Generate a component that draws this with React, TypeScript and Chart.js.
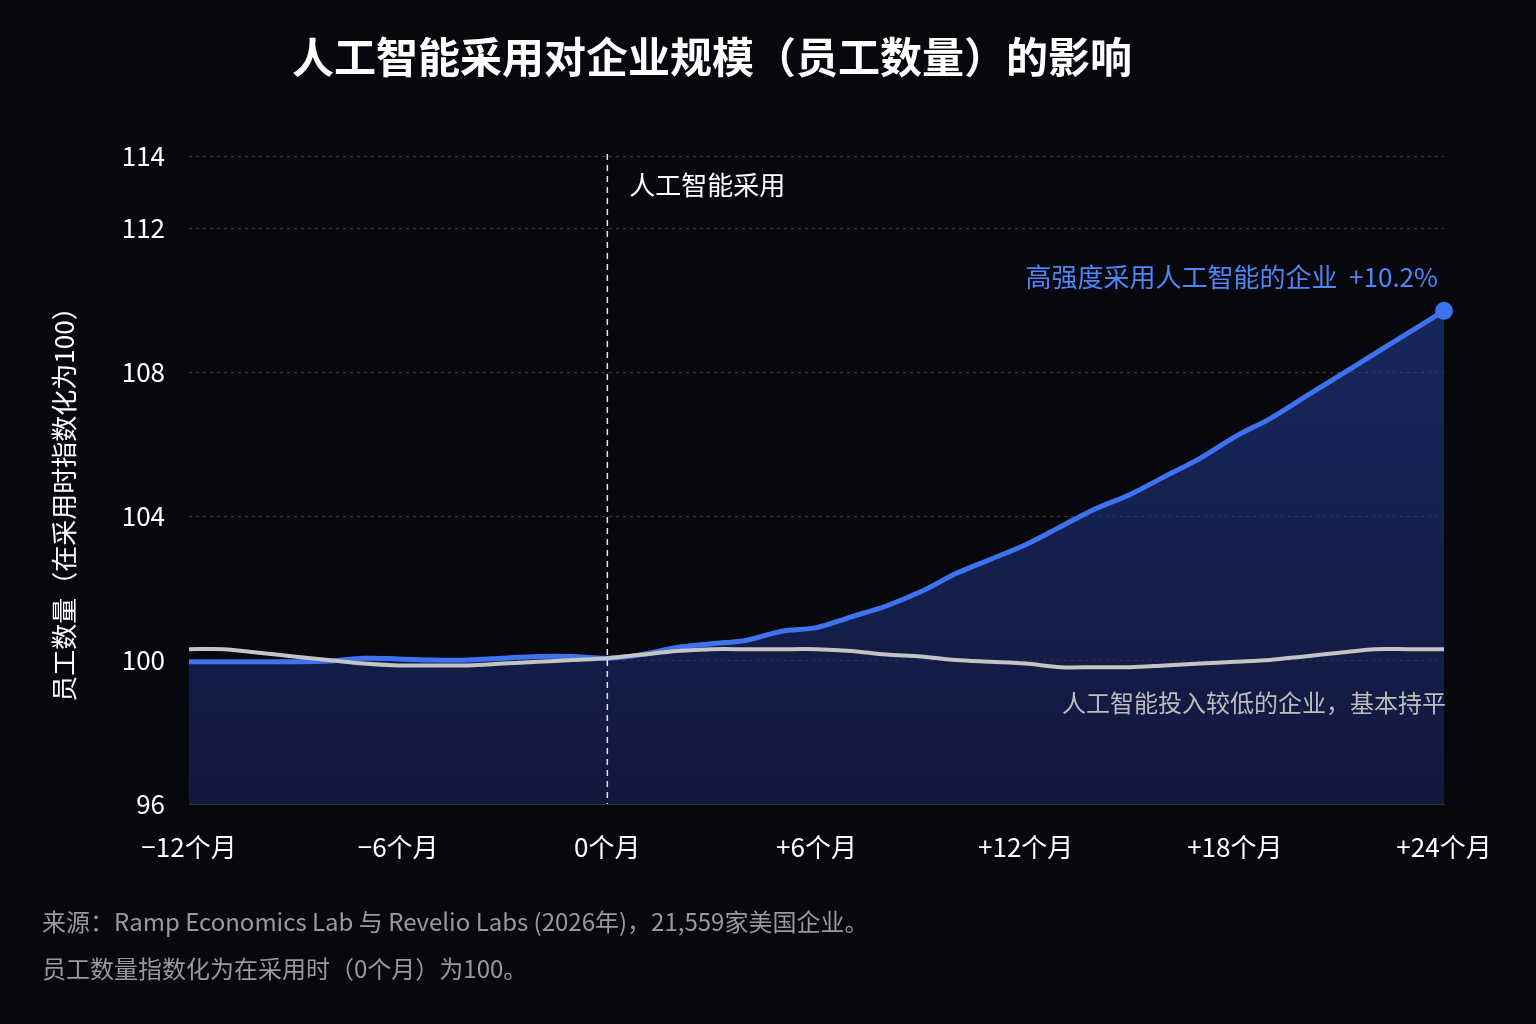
import React, { useEffect, useRef } from "react";
import { Chart, registerables } from "chart.js";
Chart.register(...registerables);

const months = [-12,-11,-10,-9,-8,-7,-6,-5,-4,-3,-2,-1,0,1,2,3,4,5,6,7,8,9,10,11,12,13,14,15,16,17,18,19,20,21,22,23,24];
const highAdoption = [99.95,99.95,99.95,99.95,99.97,100.05,100.03,100.0,100.0,100.05,100.1,100.1,100.05,100.15,100.35,100.45,100.55,100.8,100.9,101.2,101.5,101.9,102.4,102.8,103.2,103.7,104.2,104.6,105.1,105.6,106.2,106.7,107.3,107.9,108.5,109.1,109.7];
const lowAdoption = [100.3,100.3,100.2,100.1,100.0,99.9,99.85,99.85,99.85,99.9,99.95,100.0,100.05,100.15,100.25,100.3,100.3,100.3,100.3,100.25,100.15,100.1,100.0,99.95,99.9,99.8,99.8,99.8,99.85,99.9,99.95,100.0,100.1,100.2,100.3,100.3,100.3];
const yTicks = [96,100,104,108,112,114];
const xTicks = [-12,-6,0,6,12,18,24];
const FONT = "'Noto Sans CJK SC','Noto Sans',sans-serif";

export default function App() {
  const ref = useRef<HTMLCanvasElement>(null);
  useEffect(() => {
    const ctx = ref.current!.getContext("2d")!;
    const deco = {
      id: "deco",
      beforeDraw(c: any) {
        const g = c.ctx; g.save(); g.fillStyle = "#06080d"; g.fillRect(0,0,c.width,c.height); g.restore();
      },
      afterDraw(c: any) {
        const g = c.ctx, x = c.scales.x, y = c.scales.y, a = c.chartArea;
        g.save();
        g.fillStyle = "#fff"; g.font = `bold 42px ${FONT}`; g.textAlign = "center"; g.textBaseline = "middle";
        g.fillText("人工智能采用对企业规模（员工数量）的影响", 712, 57);
        const x0 = x.getPixelForValue(0);
        g.strokeStyle = "#e6e6e6"; g.lineWidth = 1.5; g.setLineDash([6,5]);
        g.beginPath(); g.moveTo(x0, a.top - 2); g.lineTo(x0, a.bottom); g.stroke(); g.setLineDash([]);
        g.font = `26px ${FONT}`; g.textAlign = "left"; g.fillStyle = "#fff";
        g.fillText("人工智能采用", x0 + 22, 185);
        g.fillStyle = "#4f86f7"; g.textAlign = "right";
        g.fillText("高强度采用人工智能的企业  +10.2%", 1438, 277);
        g.fillStyle = "#bdbdbd"; g.font = `24px ${FONT}`;
        g.fillText("人工智能投入较低的企业，基本持平", 1446, 703);
        const px = x.getPixelForValue(24), py = y.getPixelForValue(highAdoption[highAdoption.length-1]);
        g.fillStyle = "#3d72f0"; g.beginPath(); g.arc(px, py, 9, 0, Math.PI*2); g.fill();
        g.translate(64, 498); g.rotate(-Math.PI/2); g.textAlign = "center"; g.fillStyle = "#fff"; g.font = `26px ${FONT}`;
        g.fillText("员工数量（在采用时指数化为100）", 0, 0);
        g.setTransform(1,0,0,1,0,0);
        g.textAlign = "left"; g.fillStyle = "#9a9a9a"; g.font = `24px ${FONT}`;
        g.fillText("来源：Ramp Economics Lab 与 Revelio Labs (2026年)，21,559家美国企业。", 42, 922);
        g.fillText("员工数量指数化为在采用时（0个月）为100。", 42, 969);
        g.restore();
      },
    };
    const grad = ctx.createLinearGradient(0, 156, 0, 804);
    grad.addColorStop(0, "rgba(40,70,170,0.55)");
    grad.addColorStop(1, "rgba(25,35,95,0.6)");
    const chart = new Chart(ctx, {
      type: "line",
      data: {
        datasets: [
          { data: months.map((m,i)=>({x:m,y:highAdoption[i]})), borderColor: "#3d72f0", borderWidth: 5, pointRadius: 0, fill: "start", backgroundColor: grad, tension: 0.3, order: 1 },
          { data: months.map((m,i)=>({x:m,y:lowAdoption[i]})), borderColor: "#c4c4c4", borderWidth: 4, pointRadius: 0, fill: false, tension: 0.3, order: 0 },
        ],
      },
      options: {
        animation: false, responsive: false,
        layout: { padding: { top: 156, right: 92, bottom: 156, left: 0 } },
        plugins: { legend: { display: false }, tooltip: { enabled: false } },
        scales: {
          x: {
            type: "linear", min: -12, max: 24,
            afterFit: (s: any) => { s.height = 64; },
            afterBuildTicks: (s: any) => { s.ticks = xTicks.map(v => ({ value: v })); },
            grid: { display: false }, border: { display: true, color: "#333" },
            ticks: { color: "#fff", font: { size: 26, family: FONT }, padding: 20, maxRotation: 0,
              callback: (v: any) => (v > 0 ? "+" + v : v < 0 ? "−" + Math.abs(v) : "0") + "个月" },
          },
          y: {
            min: 96, max: 114,
            afterFit: (s: any) => { s.width = 189; },
            afterBuildTicks: (s: any) => { s.ticks = yTicks.map(v => ({ value: v })); },
            grid: { color: "#3a3a3a", lineWidth: 1, drawTicks: false } as any,
            border: { display: false, dash: [3,4] },
            ticks: { color: "#fff", font: { size: 26, family: FONT }, padding: 24 },
          },
        },
      },
      plugins: [deco],
    });
    return () => chart.destroy();
  }, []);
  return (
    <div style={{ position: "fixed", left: 0, top: 0, width: 1536, height: 1024 }}>
      <canvas ref={ref} width={1536} height={1024} style={{ width: 1536, height: 1024 }} />
    </div>
  );
}
